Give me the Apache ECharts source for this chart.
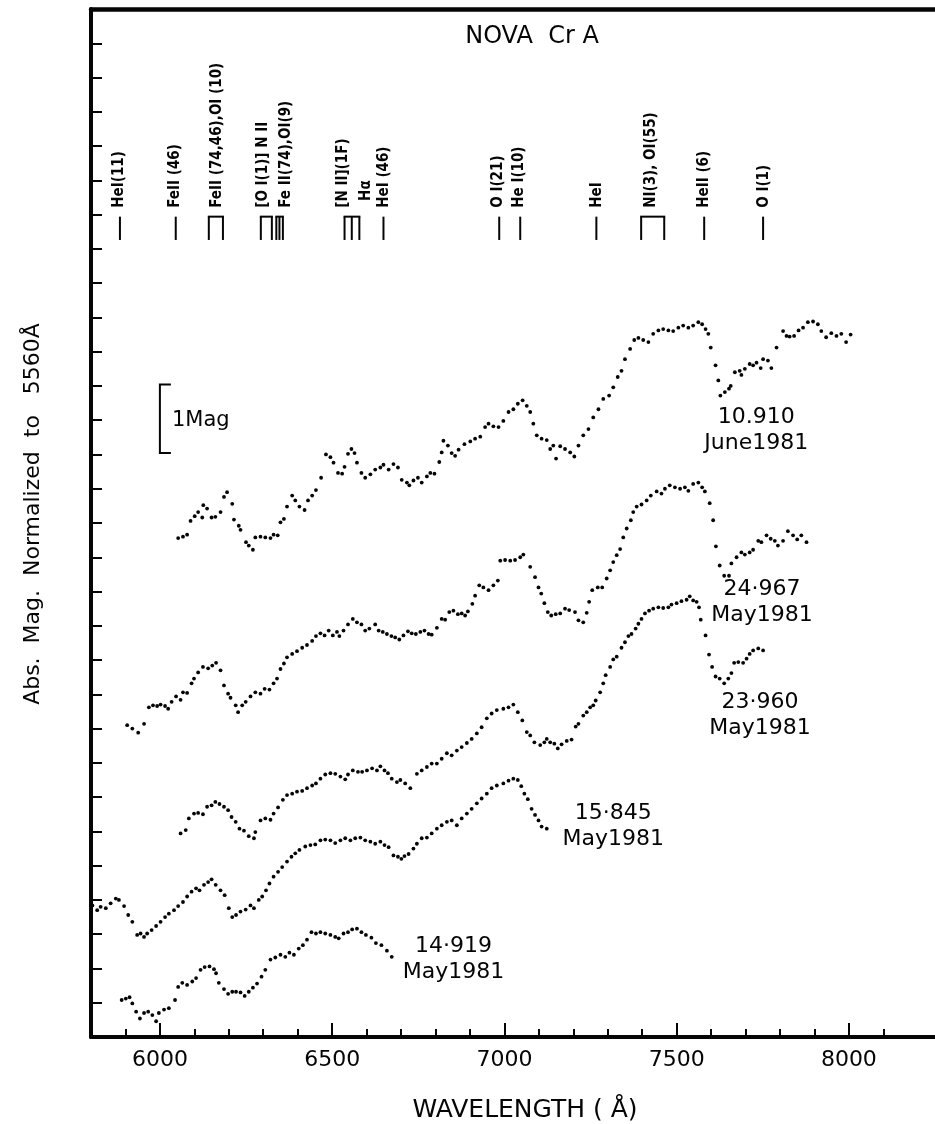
<!DOCTYPE html>
<html>
<head>
<meta charset="utf-8">
<script src="https://cdn.jsdelivr.net/npm/echarts@6/dist/echarts.min.js"></script>
<style>
html, body { margin: 0; padding: 0; background: #fff; }
#main { width: 935px; height: 1124px; }
</style>
</head>
<body>
<div id="main"></div>
<script>
// wavelength (A), relative magnitude (brighter = up)
const june10 = [[6053,7.28],[6067,7.30],[6079,7.33],[6089,7.53],[6101,7.60],[6111,7.66],[6123,7.58],[6126,7.76],[6137,7.71],[6150,7.58],[6161,7.59],[6176,7.66],[6186,7.88],[6195,7.95],[6210,7.78],[6215,7.55],[6229,7.46],[6234,7.40],[6250,7.22],[6258,7.17],[6270,7.11],[6277,7.29],[6292,7.30],[6306,7.29],[6321,7.28],[6330,7.33],[6342,7.32],[6350,7.51],[6360,7.56],[6369,7.74],[6384,7.90],[6393,7.83],[6405,7.74],[6420,7.69],[6430,7.83],[6442,7.90],[6453,7.98],[6468,8.16],[6482,8.50],[6495,8.46],[6504,8.38],[6517,8.23],[6529,8.22],[6536,8.32],[6546,8.51],[6556,8.58],[6565,8.52],[6572,8.38],[6585,8.23],[6596,8.16],[6611,8.21],[6625,8.28],[6640,8.31],[6649,8.35],[6664,8.28],[6678,8.36],[6691,8.31],[6702,8.13],[6717,8.09],[6724,8.05],[6736,8.12],[6749,8.16],[6760,8.09],[6775,8.18],[6785,8.23],[6797,8.22],[6811,8.39],[6818,8.53],[6823,8.70],[6836,8.63],[6847,8.52],[6857,8.48],[6867,8.57],[6884,8.65],[6901,8.69],[6915,8.73],[6930,8.76],[6944,8.90],[6954,8.95],[6968,8.91],[6983,8.90],[6997,8.99],[7012,9.12],[7026,9.16],[7039,9.24],[7053,9.29],[7065,9.21],[7075,9.12],[7084,8.95],[7094,8.78],[7108,8.73],[7123,8.71],[7133,8.58],[7142,8.63],[7150,8.44],[7162,8.62],[7176,8.58],[7191,8.53],[7203,8.47],[7215,8.63],[7229,8.78],[7244,8.87],[7258,9.04],[7273,9.16],[7287,9.31],[7304,9.36],[7316,9.48],[7329,9.63],[7340,9.72],[7350,9.89],[7365,10.04],[7377,10.17],[7389,10.20],[7403,10.17],[7418,10.14],[7432,10.26],[7447,10.31],[7461,10.33],[7476,10.31],[7490,10.30],[7505,10.35],[7519,10.38],[7534,10.35],[7548,10.38],[7563,10.43],[7574,10.40],[7584,10.33],[7592,10.26],[7599,10.06],[7613,9.80],[7621,9.58],[7627,9.36],[7640,9.41],[7652,9.46],[7657,9.50],[7669,9.70],[7683,9.72],[7688,9.66],[7698,9.75],[7712,9.82],[7722,9.80],[7732,9.84],[7744,9.76],[7751,9.89],[7765,9.87],[7775,9.76],[7790,10.06],[7809,10.30],[7819,10.23],[7828,10.22],[7841,10.23],[7854,10.31],[7867,10.35],[7881,10.43],[7896,10.44],[7910,10.40],[7920,10.30],[7934,10.21],[7949,10.27],[7964,10.23],[7978,10.26],[7992,10.14],[8005,10.25]];

const may24 = [[5905,4.55],[5920,4.50],[5937,4.44],[5954,4.57],[5968,4.81],[5980,4.84],[5992,4.83],[6002,4.85],[6015,4.83],[6024,4.79],[6034,4.89],[6047,4.97],[6060,4.92],[6067,5.03],[6079,5.02],[6092,5.16],[6099,5.23],[6111,5.32],[6125,5.40],[6140,5.38],[6152,5.42],[6163,5.46],[6176,5.35],[6186,5.13],[6198,5.01],[6205,4.95],[6220,4.84],[6227,4.74],[6239,4.84],[6249,4.89],[6263,4.97],[6277,5.03],[6292,5.01],[6304,5.08],[6318,5.07],[6330,5.16],[6340,5.23],[6350,5.37],[6360,5.45],[6369,5.54],[6384,5.59],[6398,5.63],[6413,5.68],[6427,5.72],[6442,5.78],[6453,5.85],[6466,5.89],[6478,5.86],[6490,5.93],[6502,5.86],[6514,5.91],[6521,5.85],[6533,5.93],[6546,6.02],[6560,6.10],[6572,6.05],[6585,6.02],[6596,5.93],[6608,5.96],[6625,6.02],[6635,5.93],[6647,5.91],[6659,5.88],[6672,5.85],[6683,5.83],[6695,5.80],[6707,5.86],[6720,5.92],[6731,5.89],[6743,5.88],[6756,5.91],[6768,5.93],[6780,5.88],[6789,5.87],[6804,5.97],[6818,6.10],[6828,6.09],[6840,6.20],[6852,6.22],[6865,6.17],[6876,6.18],[6886,6.15],[6894,6.21],[6907,6.32],[6915,6.44],[6927,6.59],[6939,6.56],[6954,6.52],[6968,6.59],[6981,6.66],[6988,6.95],[7002,6.96],[7017,6.95],[7031,6.96],[7046,7.00],[7055,7.04],[7075,6.86],[7089,6.71],[7099,6.56],[7107,6.47],[7116,6.33],[7126,6.20],[7136,6.15],[7149,6.17],[7162,6.18],[7176,6.25],[7188,6.23],[7205,6.20],[7215,6.08],[7229,6.05],[7239,6.19],[7246,6.35],[7255,6.52],[7271,6.56],[7284,6.56],[7297,6.69],[7307,6.81],[7316,6.93],[7326,7.03],[7336,7.12],[7345,7.29],[7355,7.42],[7367,7.54],[7374,7.66],[7384,7.74],[7398,7.77],[7413,7.83],[7425,7.90],[7442,7.96],[7456,7.93],[7466,8.00],[7480,8.05],[7495,8.02],[7510,8.00],[7524,8.02],[7534,7.97],[7548,8.07],[7563,8.09],[7574,8.02],[7582,7.96],[7596,7.79],[7606,7.54],[7614,7.16],[7625,6.88],[7638,6.73],[7652,6.73],[7659,6.91],[7674,7.00],[7688,7.07],[7698,7.04],[7712,7.07],[7722,7.11],[7737,7.24],[7746,7.22],[7761,7.32],[7773,7.27],[7785,7.24],[7794,7.17],[7809,7.24],[7823,7.38],[7838,7.32],[7850,7.26],[7862,7.32],[7877,7.22]];

const may23 = [[6060,2.97],[6075,3.02],[6084,3.19],[6099,3.26],[6111,3.27],[6125,3.25],[6137,3.36],[6150,3.38],[6161,3.43],[6173,3.40],[6186,3.36],[6198,3.31],[6208,3.21],[6220,3.14],[6231,3.04],[6244,3.01],[6258,2.93],[6273,2.90],[6277,2.99],[6292,3.16],[6306,3.19],[6321,3.17],[6330,3.26],[6343,3.35],[6357,3.46],[6369,3.53],[6384,3.55],[6398,3.58],[6413,3.59],[6427,3.63],[6442,3.67],[6453,3.70],[6466,3.77],[6480,3.83],[6495,3.85],[6509,3.84],[6524,3.80],[6538,3.76],[6546,3.83],[6560,3.89],[6575,3.87],[6587,3.87],[6601,3.89],[6616,3.92],[6630,3.89],[6640,3.95],[6652,3.89],[6662,3.85],[6673,3.77],[6688,3.72],[6698,3.75],[6712,3.70],[6727,3.63],[6746,3.84],[6760,3.89],[6775,3.94],[6789,3.99],[6804,3.99],[6818,4.06],[6833,4.14],[6847,4.11],[6862,4.18],[6876,4.23],[6891,4.29],[6905,4.35],[6920,4.43],[6934,4.52],[6949,4.65],[6963,4.72],[6978,4.77],[6997,4.79],[7012,4.81],[7026,4.85],[7039,4.74],[7052,4.62],[7065,4.45],[7075,4.40],[7087,4.30],[7104,4.26],[7116,4.30],[7123,4.35],[7133,4.30],[7145,4.28],[7155,4.21],[7166,4.27],[7181,4.32],[7195,4.34],[7207,4.53],[7215,4.57],[7229,4.69],[7239,4.74],[7249,4.81],[7258,4.84],[7265,4.91],[7278,5.03],[7287,5.16],[7294,5.28],[7307,5.40],[7316,5.51],[7326,5.55],[7340,5.68],[7350,5.76],[7360,5.85],[7369,5.88],[7381,5.96],[7389,6.03],[7398,6.10],[7408,6.18],[7420,6.22],[7432,6.25],[7447,6.27],[7461,6.26],[7476,6.27],[7485,6.31],[7500,6.33],[7514,6.36],[7529,6.38],[7538,6.43],[7548,6.37],[7558,6.35],[7565,6.27],[7570,6.09],[7584,5.86],[7594,5.58],[7603,5.40],[7613,5.26],[7625,5.23],[7638,5.16],[7650,5.23],[7659,5.31],[7667,5.46],[7679,5.47],[7693,5.46],[7703,5.52],[7712,5.59],[7722,5.64],[7737,5.67],[7751,5.64]];

const may15 = [[5804,1.92],[5818,1.85],[5828,1.90],[5843,1.88],[5857,1.95],[5872,2.02],[5881,2.00],[5896,1.91],[5908,1.78],[5920,1.68],[5934,1.49],[5944,1.51],[5954,1.46],[5963,1.51],[5976,1.56],[5989,1.62],[6002,1.68],[6015,1.75],[6026,1.80],[6041,1.85],[6053,1.91],[6067,1.97],[6079,2.05],[6092,2.12],[6105,2.17],[6115,2.14],[6128,2.22],[6140,2.26],[6150,2.30],[6162,2.22],[6176,2.14],[6188,2.07],[6200,1.88],[6210,1.75],[6221,1.78],[6234,1.83],[6249,1.86],[6263,1.92],[6273,1.88],[6287,2.00],[6297,2.05],[6308,2.14],[6318,2.24],[6330,2.34],[6343,2.41],[6355,2.48],[6369,2.56],[6382,2.63],[6393,2.68],[6405,2.73],[6422,2.78],[6437,2.80],[6451,2.81],[6466,2.87],[6480,2.88],[6495,2.87],[6509,2.83],[6524,2.87],[6538,2.90],[6553,2.87],[6567,2.90],[6582,2.91],[6596,2.87],[6611,2.85],[6625,2.82],[6640,2.85],[6652,2.80],[6664,2.77],[6678,2.65],[6691,2.63],[6701,2.60],[6710,2.64],[6722,2.67],[6736,2.75],[6746,2.82],[6760,2.90],[6775,2.91],[6789,2.97],[6804,3.04],[6818,3.09],[6833,3.14],[6847,3.16],[6862,3.09],[6876,3.19],[6891,3.26],[6905,3.33],[6920,3.41],[6934,3.48],[6949,3.55],[6963,3.63],[6978,3.67],[6997,3.70],[7012,3.74],[7026,3.77],[7039,3.75],[7049,3.66],[7058,3.55],[7068,3.47],[7079,3.33],[7089,3.24],[7099,3.16],[7108,3.07],[7123,3.04]];

const may14 = [[5889,0.54],[5901,0.56],[5912,0.58],[5920,0.49],[5931,0.37],[5942,0.27],[5954,0.35],[5966,0.37],[5978,0.32],[5989,0.23],[5997,0.35],[6012,0.40],[6026,0.42],[6044,0.54],[6053,0.73],[6065,0.79],[6079,0.76],[6094,0.81],[6105,0.86],[6118,0.98],[6130,1.02],[6144,1.03],[6157,0.99],[6163,0.93],[6171,0.79],[6186,0.70],[6198,0.63],[6210,0.66],[6221,0.66],[6234,0.65],[6246,0.60],[6258,0.66],[6270,0.72],[6282,0.78],[6295,0.88],[6306,0.98],[6321,1.13],[6335,1.16],[6350,1.20],[6364,1.17],[6376,1.23],[6389,1.20],[6403,1.29],[6415,1.34],[6427,1.42],[6440,1.53],[6453,1.51],[6466,1.53],[6480,1.51],[6495,1.49],[6509,1.46],[6519,1.44],[6533,1.51],[6546,1.53],[6558,1.57],[6572,1.58],[6585,1.53],[6598,1.49],[6614,1.45],[6627,1.37],[6643,1.34],[6659,1.26],[6673,1.17]];

const spectra = [june10, may24, may23, may15, may14];

// epoch labels and where they sit (wavelength, magnitude)
const epochNames = ['10.910\nJune1981', '24·967\nMay1981', '23·960\nMay1981', '15·845\nMay1981', '14·919\nMay1981'];
const epochAt = [[7731, 8.86], [7748, 6.34], [7742, 4.69], [7316, 3.08], [6852, 1.14]];

// line identifications: marker wavelengths and label wavelength
const lineIds = [
  { name: 'HeI(11)', bars: [5884], textAt: 5881 },
  { name: 'FeII (46)', bars: [6046], textAt: 6044 },
  { name: 'FeII (74,46),OI (10)', bars: [6142, 6183], textAt: 6165 },
  { name: '[O I(1)] N II', bars: [6293, 6325], textAt: 6301 },
  { name: 'Fe II(74),OI(9)', bars: [6338, 6347, 6357], textAt: 6365 },
  { name: '[N II](1F)', bars: [6536, 6557, 6579], textAt: 6531 },
  { name: 'Hα', bars: [], textAt: 6600, base: 12.2 },
  { name: 'HeI (46)', bars: [6649], textAt: 6652 },
  { name: 'O I(21)', bars: [6985], textAt: 6983 },
  { name: 'He I(10)', bars: [7046], textAt: 7044 },
  { name: 'HeI', bars: [7267], textAt: 7270 },
  { name: 'NI(3), OI(55)', bars: [7397, 7464], textAt: 7426 },
  { name: 'HeII (6)', bars: [7580], textAt: 7580 },
  { name: 'O I(1)', bars: [7751], textAt: 7754 }
];
const barTop = 11.97;
const barBottom = 11.63;
const textBase = 12.1;

// 1 mag scale bar
const scaleBar = [[6000, 8.52, 9.52]];

const minorTicks = [5900, 6000, 6100, 6200, 6300, 6400, 6500, 6600, 6700, 6800, 6900, 7000, 7100, 7200, 7300, 7400, 7500, 7600, 7700, 7800, 7900, 8000, 8100];
const majorTicks = [6000, 6500, 7000, 7500, 8000];

const ink = '#050505';
const font = '"DejaVu Sans", "Liberation Sans", sans-serif';

const chartDom = document.getElementById('main');
const myChart = echarts.init(chartDom);

function renderLineId(params, api) {
  const d = lineIds[params.dataIndex];
  const children = [];
  if (d.bars.length) {
    const xs = d.bars.map(w => api.coord([w, barTop])[0]);
    const yTop = api.coord([d.bars[0], barTop])[1];
    const yBot = api.coord([d.bars[0], barBottom])[1];
    xs.forEach(x => {
      children.push({ type: 'line', shape: { x1: x, y1: yTop, x2: x, y2: yBot }, style: { stroke: ink, lineWidth: 2 } });
    });
    if (xs.length > 1) {
      children.push({ type: 'line', shape: { x1: xs[0] - 1, y1: yTop, x2: xs[xs.length - 1] + 1, y2: yTop }, style: { stroke: ink, lineWidth: 2 } });
    }
  }
  const p = api.coord([d.textAt, d.base || textBase]);
  children.push({
    type: 'text', x: p[0], y: p[1], rotation: Math.PI / 2,
    style: { text: d.name, fill: ink, fontSize: 15, fontWeight: 'bold', fontFamily: '"DejaVu Sans Condensed", "DejaVu Sans", sans-serif', align: 'left', verticalAlign: 'middle' }
  });
  return { type: 'group', children: children };
}

function renderScale(params, api) {
  const top = api.coord([api.value(0), api.value(2)]);
  const bot = api.coord([api.value(0), api.value(1)]);
  const stub = 11;
  return {
    type: 'group',
    children: [
      { type: 'polyline', shape: { points: [[top[0] + stub, top[1]], [top[0], top[1]], [bot[0], bot[1]], [bot[0] + stub, bot[1]]] }, style: { stroke: ink, lineWidth: 2, fill: null } },
      { type: 'text', x: top[0] + 12, y: (top[1] + bot[1]) / 2 + 2, style: { text: '1Mag', fill: ink, fontSize: 21, fontFamily: font, align: 'left', verticalAlign: 'middle' } }
    ]
  };
}

const seriesList = spectra.map(s => ({
  type: 'scatter',
  xAxisIndex: 0,
  data: s,
  symbol: 'circle',
  symbolSize: 3.8,
  itemStyle: { color: ink, opacity: 1 },
  silent: true
}));

seriesList.push({
  type: 'scatter',
  xAxisIndex: 0,
  data: epochAt.map((p, i) => ({ value: p, name: epochNames[i] })),
  symbolSize: 0,
  itemStyle: { opacity: 1 },
  silent: true,
  label: {
    show: true,
    position: 'inside',
    formatter: p => p.name,
    color: ink,
    fontSize: 22,
    lineHeight: 26,
    fontFamily: font,
    align: 'center'
  }
});

seriesList.push({
  type: 'custom',
  xAxisIndex: 0,
  renderItem: renderLineId,
  data: lineIds.map(d => [d.textAt, d.base || textBase]),
  clip: false,
  silent: true
});

seriesList.push({
  type: 'custom',
  xAxisIndex: 0,
  renderItem: renderScale,
  data: scaleBar,
  encode: { x: 0, y: [1, 2] },
  clip: false,
  silent: true
});

const option = {
  animation: false,
  backgroundColor: '#fff',
  grid: {
    left: 91,
    top: 9,
    right: -1,
    bottom: 87,
    show: false
  },
  xAxis: [
    {
      type: 'value',
      min: 5800,
      max: 8250,
      interval: 100,
      axisLine: { lineStyle: { color: ink, width: 4 } },
      axisTick: { inside: true, length: 8, customValues: minorTicks, lineStyle: { color: ink, width: 2 } },
      axisLabel: {
        customValues: majorTicks,
        margin: 12,
        color: ink,
        fontSize: 22,
        fontFamily: font,
        formatter: v => (v % 500 === 0 ? String(v) : '')
      },
      splitLine: { show: false }
    },
    {
      type: 'value',
      position: 'bottom',
      min: 5800,
      max: 8250,
      interval: 100,
      axisLine: { show: false },
      axisTick: { inside: true, length: 14, customValues: majorTicks, lineStyle: { color: ink, width: 2 } },
      axisLabel: { show: false },
      splitLine: { show: false }
    },
    {
      // top frame line only
      type: 'value',
      position: 'top',
      min: 5800,
      max: 8250,
      axisLine: { lineStyle: { color: ink, width: 4.5 } },
      axisTick: { show: false },
      axisLabel: { show: false },
      splitLine: { show: false }
    }
  ],
  yAxis: {
    type: 'value',
    min: 0,
    max: 15,
    interval: 0.5,
    axisLine: { lineStyle: { color: ink, width: 4 } },
    axisTick: { inside: true, length: 11, lineStyle: { color: ink, width: 2 } },
    axisLabel: { show: false },
    splitLine: { show: false }
  },
  graphic: [
    { type: 'text', x: 532, y: 37, style: { text: 'NOVA  Cr A', fill: ink, fontSize: 24, fontFamily: font, align: 'center', verticalAlign: 'middle' } },
    { type: 'text', x: 525, y: 1110, style: { text: 'WAVELENGTH ( Å)', fill: ink, fontSize: 25, fontFamily: font, align: 'center', verticalAlign: 'middle' } },
    { type: 'text', x: 33, y: 514, rotation: Math.PI / 2, style: { text: 'Abs.  Mag.  Normalized  to   5560Å', fill: ink, fontSize: 22, fontFamily: font, align: 'center', verticalAlign: 'middle' } }
  ],
  series: seriesList
};

myChart.setOption(option);
</script>
</body>
</html>
